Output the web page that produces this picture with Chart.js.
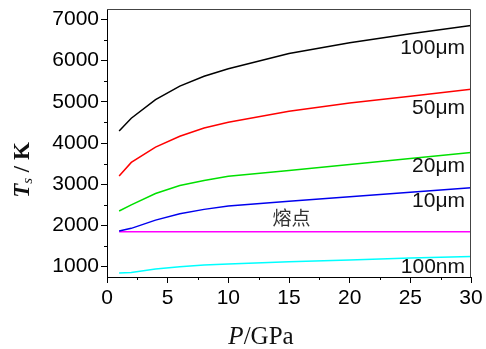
<!DOCTYPE html>
<html>
<head>
<meta charset="utf-8">
<script src="https://cdn.jsdelivr.net/npm/chart.js@4.4.1/dist/chart.umd.min.js"></script>
<style>
  html, body { margin: 0; padding: 0; background: #fff; }
  #wrap { width: 486px; height: 349px; position: relative; }
</style>
</head>
<body>
<div id="wrap"><canvas id="c"></canvas></div>
<script>
// pressure (GPa)
const pressure = [1, 2, 4, 6, 8, 10, 15, 20, 25, 30];

const t100um = [4290, 4600, 5050, 5380, 5620, 5800, 6170, 6430, 6650, 6850];
const t50um  = [3200, 3530, 3900, 4165, 4365, 4505, 4770, 4970, 5135, 5305];
const t20um  = [2350, 2500, 2775, 2970, 3090, 3195, 3335, 3480, 3625, 3770];
const t10um  = [1865, 1930, 2130, 2285, 2390, 2470, 2585, 2695, 2805, 2915];
const tMelt  = [1850, 1850, 1850, 1850, 1850, 1850, 1850, 1850, 1850, 1850];
const t100nm = [850, 860, 945, 1000, 1040, 1065, 1120, 1165, 1210, 1250];

const seriesNames = ['100μm', '50μm', '20μm', '10μm', '熔点', '100nm'];
const seriesColors = ['#000000', '#ff0000', '#00e000', '#0000ee', '#ff00ff', '#00ffff'];

const xTicks = [0, 5, 10, 15, 20, 25, 30];
const xMinor = [2.5, 7.5, 12.5, 17.5, 22.5, 27.5];
const yTicks = [1000, 2000, 3000, 4000, 5000, 6000, 7000];
const yMinor = [1500, 2500, 3500, 4500, 5500, 6500];

// label anchors in data units (x, y)
const labelPos = [[30, 6300], [30, 4850], [30, 3440], [30, 2590], [15.2, 2180], [30, 990]];

const makeSet = (name, vals, color) => ({
    label: name,
    data: pressure.map((p, i) => ({ x: p, y: vals[i] })),
    borderColor: color,
    borderWidth: 1.5,
    pointRadius: 0,
    tension: 0,
    fill: false
});

const allSeries = [t100um, t50um, t20um, t10um, tMelt, t100nm];

const noPad = (scale) => {
    scale.paddingTop = 0;
    scale.paddingBottom = 0;
    scale.paddingLeft = 0;
    scale.paddingRight = 0;
};

const extras = {
    id: 'extras',
    afterDraw(chart) {
        const ctx = chart.ctx;
        const xs = chart.scales.x, ys = chart.scales.y;
        const a = chart.chartArea;
        ctx.save();
        // frame top/right
        ctx.strokeStyle = '#444';
        ctx.lineWidth = 1;
        ctx.beginPath();
        ctx.moveTo(a.left, a.top + 0.5);
        ctx.lineTo(a.right - 0.5, a.top + 0.5);
        ctx.lineTo(a.right - 0.5, a.bottom);
        ctx.stroke();
        // minor ticks
        ctx.strokeStyle = '#000';
        ctx.beginPath();
        xMinor.forEach(v => {
            const px = Math.round(xs.getPixelForValue(v)) + 0.5;
            ctx.moveTo(px, a.bottom);
            ctx.lineTo(px, a.bottom + 3);
        });
        yMinor.forEach(v => {
            const py = Math.round(ys.getPixelForValue(v)) + 0.5;
            ctx.moveTo(a.left, py);
            ctx.lineTo(a.left - 3, py);
        });
        ctx.stroke();
        // series labels
        ctx.fillStyle = '#111';
        ctx.textBaseline = 'middle';
        labelPos.forEach((p, i) => {
            const px = xs.getPixelForValue(p[0]);
            const py = ys.getPixelForValue(p[1]);
            if (i === 4) {
                ctx.font = '19px "Noto Sans CJK SC"';
                ctx.textAlign = 'center';
                ctx.fillStyle = '#333';
                ctx.fillText(seriesNames[i], px, py);
                ctx.fillStyle = '#111';
            } else {
                ctx.font = '21px "Liberation Sans", Arial, sans-serif';
                ctx.textAlign = 'right';
                ctx.fillText(seriesNames[i], px - 6, py);
            }
        });
        // x title
        ctx.textBaseline = 'alphabetic';
        ctx.textAlign = 'left';
        ctx.font = 'italic 25px "Liberation Serif", serif';
        const pW = ctx.measureText('P').width;
        ctx.font = '25px "Liberation Serif", serif';
        const rW = ctx.measureText('/GPa').width;
        let sx = 261 - (pW + rW) / 2;
        ctx.font = 'italic 25px "Liberation Serif", serif';
        ctx.fillText('P', sx, 344);
        ctx.font = '25px "Liberation Serif", serif';
        ctx.fillText('/GPa', sx + pW, 344);
        // y title
        ctx.translate(29, 170);
        ctx.rotate(-Math.PI / 2);
        ctx.font = 'bold italic 23px "Liberation Serif", serif';
        const tW = ctx.measureText('T').width;
        ctx.font = 'italic 15px "Liberation Serif", serif';
        const sW = ctx.measureText('s').width;
        ctx.font = 'bold 23px "Liberation Serif", serif';
        const kW = ctx.measureText(' / K').width;
        let ox = -(tW + sW + kW) / 2;
        ctx.font = 'bold italic 23px "Liberation Serif", serif';
        ctx.fillText('T', ox, 0);
        ctx.font = 'italic 15px "Liberation Serif", serif';
        ctx.fillText('s', ox + tW, 3);
        ctx.font = 'bold 23px "Liberation Serif", serif';
        ctx.fillText(' / K', ox + tW + sW, 0);
        ctx.restore();
    }
};

new Chart(document.getElementById('c'), {
    type: 'line',
    data: {
        datasets: allSeries.map((s, i) => makeSet(seriesNames[i], s, seriesColors[i]))
    },
    options: {
        responsive: true,
        maintainAspectRatio: false,
        animation: false,
        events: [],
        layout: { padding: { top: 9, right: 15, bottom: 0, left: 0 } },
        plugins: { legend: { display: false }, tooltip: { enabled: false } },
        scales: {
            x: {
                type: 'linear',
                min: 0,
                max: 30,
                afterBuildTicks: (scale) => { scale.ticks = xTicks.map(v => ({ value: v })); },
                afterFit: (scale) => { scale.height = 72; noPad(scale); },
                grid: { drawOnChartArea: false, drawTicks: true, tickLength: 6, tickColor: '#000' },
                border: { display: true, color: '#000', width: 1 },
                ticks: {
                    color: '#000',
                    padding: 3,
                    maxRotation: 0,
                    autoSkip: false,
                    callback: (v) => String(v),
                    font: { family: '"Liberation Sans", Arial, sans-serif', size: 21 }
                }
            },
            y: {
                type: 'linear',
                min: 750,
                max: 7250,
                afterBuildTicks: (scale) => { scale.ticks = yTicks.map(v => ({ value: v })); },
                afterFit: (scale) => { scale.width = 107; noPad(scale); },
                grid: { drawOnChartArea: false, drawTicks: true, tickLength: 6, tickColor: '#000' },
                border: { display: true, color: '#000', width: 1 },
                ticks: {
                    color: '#000',
                    padding: 2,
                    autoSkip: false,
                    callback: (v) => String(v),
                    font: { family: '"Liberation Sans", Arial, sans-serif', size: 21 }
                }
            }
        }
    },
    plugins: [extras]
});
</script>
</body>
</html>
